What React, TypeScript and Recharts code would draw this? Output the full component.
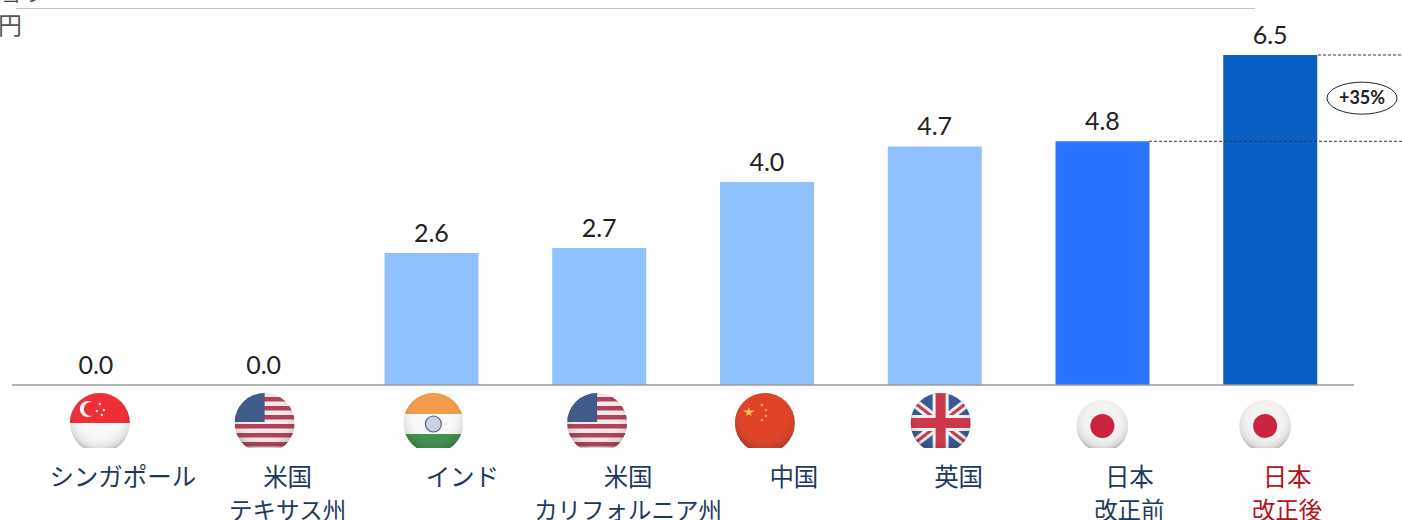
import { ComposedChart, Bar, Line, Cell, XAxis, YAxis, LabelList, ReferenceLine } from 'recharts';

const CATEGORIES = ['シンガポール', '米国\nテキサス州', 'インド', '米国\nカリフォルニア州', '中国', '英国', '日本\n改正前', '日本\n改正後'];
const VALUES = [0.0, 0.0, 2.6, 2.7, 4.0, 4.7, 4.8, 6.5];
const FLAGS = ['sg', 'us', 'in', 'us', 'cn', 'uk', 'jp', 'jp'];
const BAR_COLORS = ['#8fc1ff', '#8fc1ff', '#8fc1ff', '#8fc1ff', '#8fc1ff', '#8fc1ff', '#2a75ff', '#0a5fc4'];
const BEFORE = 4.8;
const AFTER = 6.5;
const CHANGE_LABEL = '+35%';

const data = CATEGORIES.map((name, i) => ({ name, value: VALUES[i] }));

// flags and labels sit a little off the tick in the original
const FLAG_DX = [4, 1, 2, -2, -2, 6, 0, -5];
const TEXT_DX = [27, 24, 31, 29, 27, 24, 27, 17];

const LATO = 'Lato, sans-serif';
const CJK = '"Noto Sans CJK JP", sans-serif';

function FlagArt({ kind }: { kind: string }) {
  if (kind === 'sg') {
    return (
      <g>
        <rect x={-31} y={-31} width={62} height={31} fill="#ee1c25" />
        <rect x={-31} y={0} width={62} height={31} fill="#f8f8f8" />
        <circle cx={-12} cy={-14} r={8} fill="#fff" />
        <circle cx={-9} cy={-14} r={7} fill="#ee1c25" />
        <circle cx={0} cy={-19} r={1.2} fill="#fff" />
        <circle cx={4} cy={-13} r={1.2} fill="#fff" />
        <circle cx={-3} cy={-12} r={1.2} fill="#fff" />
        <circle cx={2} cy={-8} r={1.2} fill="#fff" />
      </g>
    );
  }
  if (kind === 'us') {
    return (
      <g>
        <rect x={-31} y={-31} width={62} height={62} fill="#f6e6e8" />
        {[-26, -17, -8, 1, 10, 19].map((y) => (
          <rect key={y} x={-31} y={y} width={62} height={4.5} fill="#a8324a" />
        ))}
        <rect x={-31} y={-31} width={31} height={30} fill="#2f4d7e" />
      </g>
    );
  }
  if (kind === 'in') {
    return (
      <g>
        <rect x={-31} y={-31} width={62} height={22} fill="#f4943a" />
        <rect x={-31} y={-9} width={62} height={20} fill="#f8f8f8" />
        <rect x={-31} y={11} width={62} height={20} fill="#2f8a3c" />
        <circle cx={0} cy={1} r={8} fill="#c9cbe0" stroke="#4a4f80" strokeWidth={1.2} />
      </g>
    );
  }
  if (kind === 'cn') {
    return (
      <g>
        <rect x={-31} y={-31} width={62} height={62} fill="#dd3315" />
        <path d="M-16,-16 L-13,-7 L-22,-12.5 L-10,-12.5 L-19,-7 Z" fill="#f7c531" />
        <circle cx={-3} cy={-18} r={1.3} fill="#f0a030" />
        <circle cx={1} cy={-13} r={1.3} fill="#f0a030" />
        <circle cx={1} cy={-7} r={1.3} fill="#f0a030" />
        <circle cx={-3} cy={-3} r={1.3} fill="#f0a030" />
      </g>
    );
  }
  if (kind === 'uk') {
    return (
      <g>
        <rect x={-31} y={-31} width={62} height={62} fill="#2a4a8c" />
        <path d="M-31,-24 L31,24 M-31,24 L31,-24" stroke="#f4f0f0" strokeWidth={9} />
        <path d="M-31,-24 L31,24 M-31,24 L31,-24" stroke="#c8283c" strokeWidth={3} />
        <rect x={-31} y={-8} width={62} height={16} fill="#f4f0f0" />
        <rect x={-8} y={-31} width={16} height={62} fill="#f4f0f0" />
        <rect x={-31} y={-5} width={62} height={10} fill="#c8283c" />
        <rect x={-5} y={-31} width={10} height={62} fill="#c8283c" />
      </g>
    );
  }
  return (
    <g>
      <rect x={-31} y={-31} width={62} height={62} fill="#f2f2f0" />
      <circle cx={0} cy={0} r={12} fill="#c8102e" />
    </g>
  );
}

function AxisTick({ x, y, payload, index }: any) {
  const lines = String(payload.value).split('\n');
  const kind = FLAGS[index];
  const isAfter = index === CATEGORIES.length - 1;
  const r = kind === 'jp' ? 26 : 30;
  const cy = kind === 'jp' ? 33 : 30;
  const bottom = 55;
  const cx = x + FLAG_DX[index];
  const textColor = isAfter ? '#b5121b' : '#1f3a5f';
  return (
    <g>
      <clipPath id={`flag-clip-${index}`}>
        <path d={`M${-r},${-r} H${r} V${bottom - cy} H${-r} Z`} transform={`translate(${cx},${y + cy})`} />
      </clipPath>
      <g clipPath={`url(#flag-clip-${index})`}>
        <clipPath id={`flag-circle-${index}`}>
          <circle cx={cx} cy={y + cy} r={r} />
        </clipPath>
        <g clipPath={`url(#flag-circle-${index})`}>
          <g transform={`translate(${cx},${y + cy})`}>
            <FlagArt kind={kind} />
          </g>
          <circle cx={cx} cy={y + cy} r={r} fill="url(#flag-shade)" />
        </g>
      </g>
      {lines.map((line, i) => (
        <text
          key={line}
          x={x + TEXT_DX[index]}
          y={y + 93 + i * 33}
          textAnchor="middle"
          fontFamily={CJK}
          fontSize={i === 0 ? 24.5 : 23.5}
          fill={textColor}
        >
          {line}
        </text>
      ))}
    </g>
  );
}

function DashedLine({ y1, from }: any) {
  return <line x1={from} x2={1402} y1={y1} y2={y1} stroke="#333" strokeWidth={1} strokeDasharray="3 2" />;
}

function ChangeBadge({ y1 }: any) {
  return (
    <g>
      <ellipse cx={1362} cy={y1} rx={35} ry={16} fill="#fff" stroke="#222" strokeWidth={1} />
      <text x={1362} y={y1 + 6} textAnchor="middle" fontFamily={LATO} fontWeight={700} fontSize={18} fill="#222">
        {CHANGE_LABEL}
      </text>
    </g>
  );
}

export default function App() {
  return (
    <div style={{ position: 'absolute', left: 0, top: 0, width: 1402, height: 520, overflow: 'hidden', background: '#fff' }}>
      <div style={{ position: 'absolute', left: 16, top: 8, width: 1239, height: 1, background: '#b9c8d0' }} />
      <div style={{ position: 'absolute', left: 2, top: -19, fontFamily: CJK, fontSize: 18, lineHeight: '24px', color: '#444' }}>当 り</div>
      <div style={{ position: 'absolute', left: -2, top: 8, fontFamily: CJK, fontSize: 24, lineHeight: '32px', color: '#555' }}>円</div>
      <ComposedChart width={1402} height={520} data={data} margin={{ top: 55, right: 48, bottom: 0, left: 12 }}>
        <defs>
          <radialGradient id="flag-shade" cx="50%" cy="40%" r="60%">
            <stop offset="55%" stopColor="#fff" stopOpacity={0.08} />
            <stop offset="85%" stopColor="#777" stopOpacity={0.18} />
            <stop offset="100%" stopColor="#333" stopOpacity={0.4} />
          </radialGradient>
        </defs>
        <XAxis
          dataKey="name"
          interval={0}
          height={135}
          axisLine={{ stroke: '#999', strokeWidth: 1.5 }}
          tickLine={false}
          tick={<AxisTick />}
        />
        <YAxis hide domain={[0, AFTER]} />
        <Bar dataKey="value" barSize={94} isAnimationActive={false}>
          {data.map((entry, i) => (
            <Cell key={entry.name} fill={BAR_COLORS[i]} />
          ))}
        </Bar>
        {/* invisible line only carries the value labels, bars drop them at zero height */}
        <Line dataKey="value" stroke="none" dot={false} activeDot={false} legendType="none" isAnimationActive={false}>
          <LabelList
            dataKey="value"
            position="top"
            offset={11}
            formatter={(v: any) => Number(v).toFixed(1)}
            style={{ fontFamily: LATO, fontSize: 25, fill: '#222' }}
          />
        </Line>
        <ReferenceLine y={BEFORE} ifOverflow="visible" shape={(p: any) => <DashedLine {...p} from={1149} />} />
        <ReferenceLine y={AFTER} ifOverflow="visible" shape={(p: any) => <DashedLine {...p} from={1318} />} />
        <ReferenceLine y={(BEFORE + AFTER) / 2} ifOverflow="visible" shape={(p: any) => <ChangeBadge {...p} />} />
      </ComposedChart>
    </div>
  );
}
